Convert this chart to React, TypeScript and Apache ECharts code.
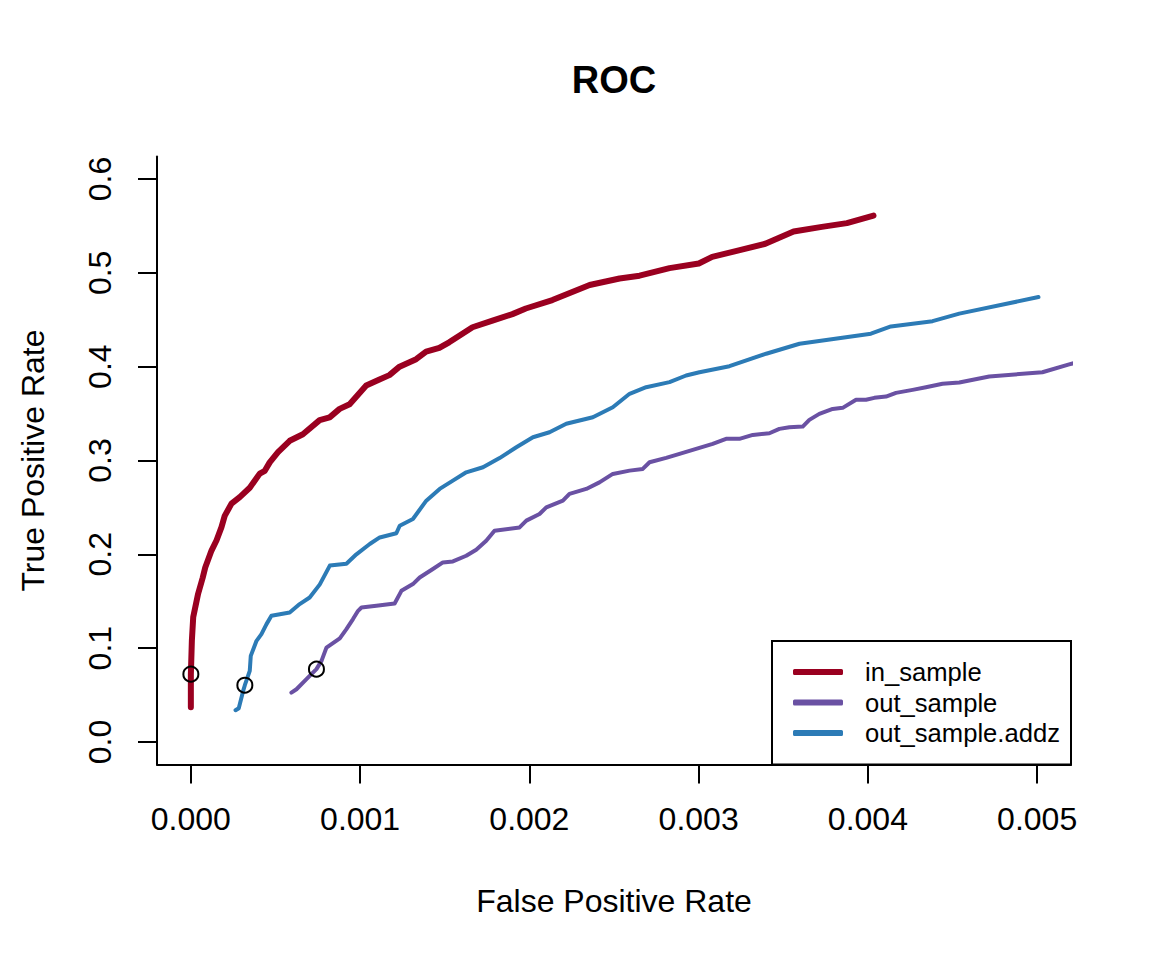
import React, { useEffect, useRef } from "react";
import * as echarts from "echarts";

const FONT = '"Liberation Sans", Arial, Helvetica, sans-serif';

const titleText = "ROC";
const xAxisTitle = "False Positive Rate";
const yAxisTitle = "True Positive Rate";
const seriesNames = ["in_sample", "out_sample", "out_sample.addz"];
const seriesColors = ["#9A0020", "#6A51A3", "#2C7BB6"];
const seriesWidths = [6, 4, 4];

const xTicks = [0, 0.001, 0.002, 0.003, 0.004, 0.005];
const yTicks = [0, 0.1, 0.2, 0.3, 0.4, 0.5, 0.6];

// in_sample
const inFpr = [
  0, 0, 0.000006, 0.000014, 0.000043, 0.00007, 0.000085, 0.000122, 0.000152, 0.000181,
  0.0002, 0.00024, 0.000289, 0.000348, 0.000407, 0.000437, 0.000466, 0.000515, 0.000584,
  0.000662, 0.000761, 0.00082, 0.000879, 0.000938, 0.001036, 0.001111, 0.001173, 0.001233,
  0.001331, 0.00139, 0.001468, 0.001526, 0.001586, 0.001664, 0.001782, 0.0019, 0.001979,
  0.002136, 0.002356, 0.002533, 0.002651, 0.002828, 0.003001, 0.00308, 0.003237, 0.003394,
  0.003561, 0.003728, 0.003876, 0.004033,
];
const inTpr = [
  0.037, 0.072, 0.108, 0.133, 0.158, 0.175, 0.186, 0.204, 0.215, 0.229,
  0.241, 0.254, 0.261, 0.271, 0.286, 0.289, 0.298, 0.309, 0.321,
  0.328, 0.343, 0.346, 0.355, 0.36, 0.38, 0.386, 0.391, 0.4,
  0.408, 0.416, 0.42, 0.426, 0.433, 0.442, 0.449, 0.456, 0.462,
  0.471, 0.487, 0.494, 0.497, 0.505, 0.51, 0.517, 0.524, 0.531,
  0.544, 0.549, 0.553, 0.561,
];

// out_sample
const outFpr = [
  0.000594, 0.000624, 0.000683, 0.000742, 0.000772, 0.000801, 0.000831, 0.00088, 0.000919,
  0.000958, 0.000988, 0.001008, 0.001096, 0.001204, 0.001244, 0.001312, 0.001352, 0.00143,
  0.001489, 0.001548, 0.001627, 0.001686, 0.001745, 0.001794, 0.001942, 0.001982, 0.00206,
  0.0021, 0.002198, 0.002237, 0.002336, 0.002414, 0.002493, 0.002592, 0.00267, 0.00271,
  0.002808, 0.002887, 0.002985, 0.003083, 0.003162, 0.003241, 0.00332, 0.003418, 0.003477,
  0.003536, 0.003615, 0.003654, 0.003713, 0.003792, 0.003851, 0.00393, 0.003989, 0.004038,
  0.004107, 0.004166, 0.004264, 0.004343, 0.004441, 0.00454, 0.004717, 0.005031, 0.005189,
  0.005248,
];
const outTpr = [
  0.0526, 0.0562, 0.0669, 0.0776, 0.0864, 0.1006, 0.1043, 0.1105, 0.1203,
  0.131, 0.1398, 0.1433, 0.1451, 0.1476, 0.1611, 0.1683, 0.1753, 0.1843,
  0.1914, 0.1924, 0.1985, 0.2049, 0.2145, 0.2252, 0.2287, 0.2359, 0.243,
  0.2501, 0.2572, 0.2644, 0.2697, 0.2767, 0.2857, 0.2892, 0.291, 0.2981,
  0.3028, 0.3071, 0.3124, 0.3177, 0.3231, 0.3231, 0.3273, 0.329, 0.3337,
  0.3354, 0.3362, 0.3433, 0.3497, 0.355, 0.3561, 0.3647, 0.3647, 0.3668,
  0.3682, 0.3721, 0.3753, 0.3781, 0.3818, 0.3831, 0.3895, 0.3941, 0.4024,
  0.4055,
];

// out_sample.addz
const addzFpr = [
  0.000264, 0.000283, 0.000309, 0.000319, 0.000348, 0.000354, 0.000388, 0.000417, 0.000447,
  0.000476, 0.000584, 0.000643, 0.000702, 0.000762, 0.000821, 0.000919, 0.000978, 0.001057,
  0.001116, 0.001214, 0.001234, 0.001312, 0.001391, 0.00147, 0.001548, 0.001627, 0.001726,
  0.001824, 0.001923, 0.002021, 0.002119, 0.002218, 0.002375, 0.002493, 0.002592, 0.00269,
  0.002828, 0.002926, 0.003005, 0.003182, 0.003399, 0.003596, 0.004018, 0.004136, 0.004382,
  0.00454, 0.005008,
];
const addzTpr = [
  0.0338, 0.036, 0.0544, 0.0605, 0.0758, 0.0918, 0.1078, 0.115, 0.1256,
  0.1345, 0.138, 0.147, 0.154, 0.168, 0.188, 0.19, 0.2, 0.211,
  0.218, 0.2225, 0.2305, 0.2377, 0.2572, 0.2697, 0.2786, 0.2874, 0.2928,
  0.3026, 0.3141, 0.3248, 0.3301, 0.3391, 0.3461, 0.3568, 0.3711, 0.3781,
  0.3835, 0.3906, 0.3941, 0.4005, 0.4138, 0.4244, 0.4351, 0.4429, 0.4485,
  0.4565, 0.4742,
];

// cutoff markers (open circles)
const cutoffFpr = [0, 0.000742, 0.000319];
const cutoffTpr = [0.0723, 0.0776, 0.0605];

const zip = (xs: number[], ys: number[]) => xs.map((x, i) => [x, ys[i]]);

export default function App() {
  const ref = useRef<HTMLDivElement>(null);
  useEffect(() => {
    if (!ref.current) return;
    const chart = echarts.init(ref.current, null, { renderer: "svg" });
    const curves = [zip(inFpr, inTpr), zip(outFpr, outTpr), zip(addzFpr, addzTpr)];
    const axisCommon = {
      axisLine: { show: true, onZero: false, lineStyle: { color: "#000", width: 2 } },
      axisTick: { show: true, inside: false, length: 19, lineStyle: { color: "#000", width: 2 } },
      splitLine: { show: false },
      nameTextStyle: { color: "#000", fontSize: 32, fontFamily: FONT },
    };
    chart.setOption({
      animation: false,
      backgroundColor: "#fff",
      grid: {
        left: 157,
        right: 81,
        top: 156.5,
        bottom: 195.5,
        containLabel: false,
        outerBoundsMode: "none",
      },
      xAxis: {
        type: "value",
        min: -0.0002,
        max: 0.0052,
        name: xAxisTitle,
        nameLocation: "middle",
        nameGap: 120,
        ...axisCommon,
        axisTick: { ...axisCommon.axisTick, customValues: xTicks },
        axisLabel: {
          customValues: xTicks,
          margin: 38,
          color: "#000",
          fontSize: 32,
          fontFamily: FONT,
          formatter: (v: number) => v.toFixed(3),
        },
      },
      yAxis: {
        type: "value",
        min: -0.024,
        max: 0.624,
        name: yAxisTitle,
        nameLocation: "middle",
        nameGap: 108,
        ...axisCommon,
        axisTick: { ...axisCommon.axisTick, customValues: yTicks },
        axisLabel: {
          customValues: yTicks,
          rotate: 90,
          margin: 41,
          color: "#000",
          fontSize: 32,
          fontFamily: FONT,
          formatter: (v: number) => v.toFixed(1),
        },
      },
      legend: {
        data: seriesNames,
        orient: "vertical",
        left: 793,
        top: 659,
        padding: 0,
        itemWidth: 50,
        itemHeight: 6,
        itemGap: 4.5,
        icon: "roundRect",
        selectedMode: false,
        textStyle: {
          color: "#000",
          fontSize: 25.6,
          lineHeight: 26,
          fontFamily: FONT,
          padding: [0, 0, 0, 17],
        },
      },
      graphic: [
        {
          type: "rect",
          shape: { x: 772, y: 641, width: 299, height: 123.5 },
          style: { fill: "#fff", stroke: "#000", lineWidth: 2 },
          z: 1,
        },
        {
          type: "text",
          x: 614,
          y: 80,
          style: {
            text: titleText,
            fill: "#000",
            fontSize: 38,
            fontWeight: "bold",
            fontFamily: FONT,
            align: "center",
            verticalAlign: "middle",
            textAlign: "center",
            textVerticalAlign: "middle",
          },
        },
      ],
      series: [
        ...seriesNames.map((name, i) => ({
          name,
          type: "line",
          data: curves[i],
          color: seriesColors[i],
          itemStyle: { color: seriesColors[i] },
          showSymbol: false,
          symbol: "none",
          clip: true,
          lineStyle: { color: seriesColors[i], width: seriesWidths[i], cap: "round", join: "round" },
          z: 2,
        })),
        {
          name: "cutoff",
          type: "scatter",
          data: zip(cutoffFpr, cutoffTpr),
          symbol: "circle",
          symbolSize: 15,
          itemStyle: { color: "rgba(0,0,0,0)", borderColor: "#000", borderWidth: 2, opacity: 1 },
          z: 3,
        },
      ],
    });
    return () => chart.dispose();
  }, []);
  return (
    <div
      ref={ref}
      style={{ position: "absolute", left: 0, top: 0, width: 1152, height: 960 }}
    />
  );
}
